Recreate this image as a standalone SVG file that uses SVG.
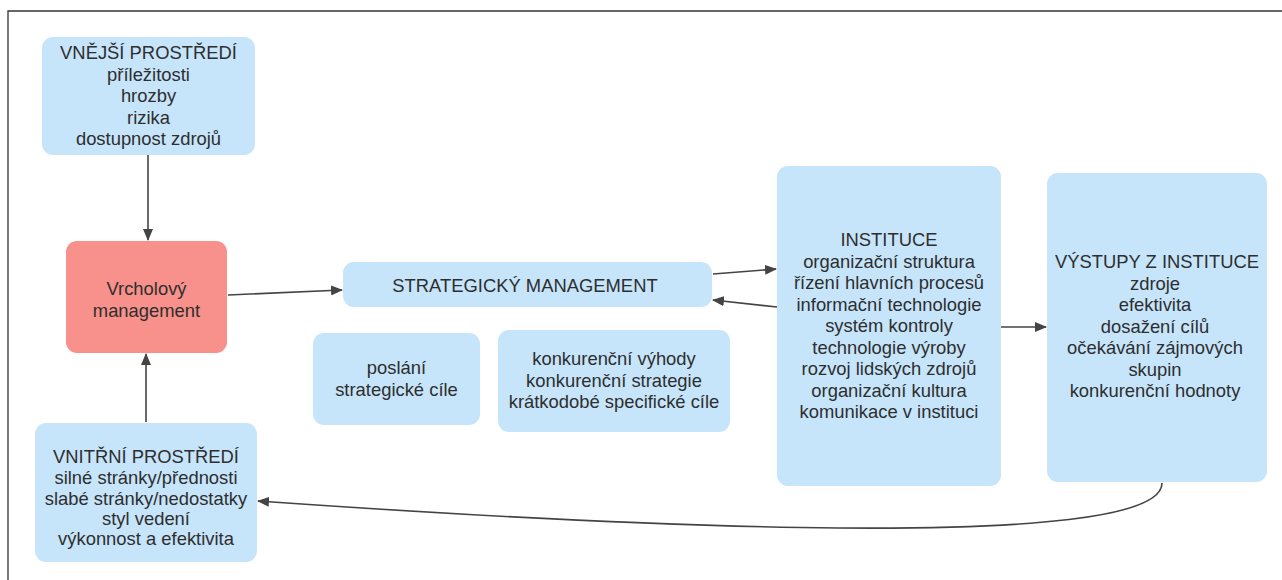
<svg xmlns="http://www.w3.org/2000/svg" width="1282" height="580" viewBox="0 0 1282 580">
<style>
.box{fill:#c6e5fb;}
.red{fill:#f8918b;}
text{font-family:"Liberation Sans",Arial,sans-serif;font-size:18.4px;fill:#2e2e2e;text-anchor:middle;}
.conn{fill:none;stroke:#444;stroke-width:1.6;}
</style>
<defs>
<marker id="ah" markerWidth="12" markerHeight="10" refX="11" refY="5" orient="auto" markerUnits="userSpaceOnUse">
<path d="M0,0 L12,5 L0,10 Z" fill="#444"/>
</marker>
</defs>
<rect x="0" y="0" width="1282" height="580" fill="#fff"/>
<g id="frame">
<path d="M8,580 L8,11 L1282,11" fill="none" stroke="#333" stroke-width="1.3"/>
</g>
<g id="connectors">
<path class="conn" d="M148,155 L148,240" marker-end="url(#ah)"/>
<path class="conn" d="M146,422 L146,354" marker-end="url(#ah)"/>
<path class="conn" d="M228,295 L342,290" marker-end="url(#ah)"/>
<path class="conn" d="M713,274 L776,269" marker-end="url(#ah)"/>
<path class="conn" d="M777,307 L713,300" marker-end="url(#ah)"/>
<path class="conn" d="M1001,327 L1046,327" marker-end="url(#ah)"/>
<path class="conn" d="M1162,483 C1162,555 600,525 258,501" marker-end="url(#ah)"/>
</g>
<g id="vnejsi">
<rect class="box" x="42" y="37" width="213" height="118" rx="11"/>
<text x="148.5" y="59">VNĚJŠÍ PROSTŘEDÍ</text>
<text x="148.5" y="80.5">příležitosti</text>
<text x="148.5" y="102">hrozby</text>
<text x="148.5" y="123.5">rizika</text>
<text x="148.5" y="145">dostupnost zdrojů</text>
</g>
<g id="vrcholovy">
<rect class="red" x="66" y="241" width="161" height="112" rx="11"/>
<text x="146.5" y="295">Vrcholový</text>
<text x="146.5" y="316.5">management</text>
</g>
<g id="vnitrni">
<rect class="box" x="35" y="423" width="222" height="139" rx="11"/>
<text x="146" y="462.5">VNITŘNÍ PROSTŘEDÍ</text>
<text x="146" y="483.5">silné stránky/přednosti</text>
<text x="146" y="504.5">slabé stránky/nedostatky</text>
<text x="146" y="525">styl vedení</text>
<text x="146" y="545">výkonnost a efektivita</text>
</g>
<g id="strategicky">
<rect class="box" x="343" y="262" width="369" height="45" rx="11"/>
<text x="525" y="291.5">STRATEGICKÝ MANAGEMENT</text>
</g>
<g id="poslani">
<rect class="box" x="313" y="333" width="167" height="92" rx="11"/>
<text x="396.5" y="374">poslání</text>
<text x="396.5" y="396">strategické cíle</text>
</g>
<g id="konkurencni">
<rect class="box" x="498" y="330" width="232" height="102" rx="11"/>
<text x="614" y="365">konkurenční výhody</text>
<text x="614" y="386.5">konkurenční strategie</text>
<text x="614" y="408">krátkodobé specifické cíle</text>
</g>
<g id="instituce">
<rect class="box" x="777" y="166" width="224" height="320" rx="11"/>
<text x="889" y="246">INSTITUCE</text>
<text x="889" y="267.5">organizační struktura</text>
<text x="889" y="289">řízení hlavních procesů</text>
<text x="889" y="310.5">informační technologie</text>
<text x="889" y="332">systém kontroly</text>
<text x="889" y="353.5">technologie výroby</text>
<text x="889" y="375">rozvoj lidských zdrojů</text>
<text x="889" y="396.5">organizační kultura</text>
<text x="889" y="418">komunikace v instituci</text>
</g>
<g id="vystupy">
<rect class="box" x="1047" y="173" width="220" height="309" rx="11"/>
<text x="1157" y="268">VÝSTUPY Z INSTITUCE</text>
<text x="1155" y="289.5">zdroje</text>
<text x="1155" y="311">efektivita</text>
<text x="1155" y="332.5">dosažení cílů</text>
<text x="1155" y="354">očekávání zájmových</text>
<text x="1155" y="375.5">skupin</text>
<text x="1155" y="397">konkurenční hodnoty</text>
</g>
</svg>
